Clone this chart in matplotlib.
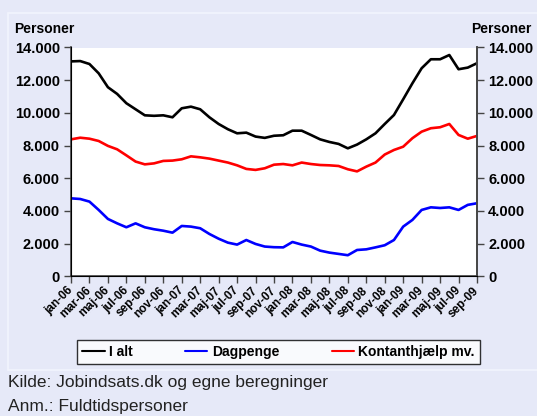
import matplotlib
matplotlib.use("Agg")
import matplotlib.pyplot as plt
from matplotlib.patches import Rectangle
from matplotlib.ticker import FuncFormatter
from matplotlib.transforms import ScaledTranslation

plt.rcParams["font.family"] = ["Liberation Sans", "DejaVu Sans"]

# months jan-06 .. sep-09
month_names = ["jan", "feb", "mar", "apr", "maj", "jun",
               "jul", "aug", "sep", "okt", "nov", "dec"]
months = [f"{month_names[m]}-{y:02d}" for y in (6, 7, 8, 9) for m in range(12)][:45]

i_alt = [13150, 13170, 12990, 12420, 11570, 11160, 10590, 10220, 9850, 9820,
         9850, 9730, 10280, 10380, 10220, 9730, 9320, 9000, 8750, 8790,
         8550, 8470, 8600, 8630, 8910, 8910, 8650, 8380, 8220, 8100,
         7830, 8060, 8380, 8750, 9320, 9870, 10830, 11810, 12730, 13280,
         13280, 13540, 12670, 12770, 13040]

dagpenge = [4770, 4730, 4570, 4060, 3510, 3240, 3000, 3240, 3000, 2880,
            2790, 2670, 3080, 3040, 2940, 2590, 2300, 2060, 1940, 2220,
            1980, 1820, 1780, 1770, 2100, 1940, 1820, 1570, 1450, 1370,
            1290, 1610, 1650, 1770, 1900, 2220, 3040, 3450, 4060, 4220,
            4180, 4220, 4060, 4370, 4470]

kontanthjaelp = [8380, 8480, 8420, 8280, 7980, 7770, 7400, 7020, 6850, 6910,
                 7060, 7080, 7160, 7340, 7280, 7200, 7080, 6960, 6790, 6570,
                 6510, 6610, 6830, 6870, 6790, 6960, 6870, 6810, 6790, 6750,
                 6550, 6420, 6710, 6960, 7450, 7730, 7930, 8450, 8850, 9060,
                 9120, 9320, 8650, 8420, 8590]

series = [("I alt", i_alt, "black"),
          ("Dagpenge", dagpenge, "#0000FF"),
          ("Kontanthjælp mv.", kontanthjaelp, "#FF0000")]

bg = "#E6E9F8"
fig = plt.figure(figsize=(5.37, 4.16), dpi=100, facecolor=bg)
W, H = 537, 416

# chart area frame (behind everything)
fig.patches.append(Rectangle((8 / W, 1 - 370 / H), 1, (370 - 13) / H,
                             transform=fig.transFigure, facecolor=bg,
                             edgecolor="#F2F4FD", linewidth=1.2, zorder=-5))

ax = fig.add_axes([71 / W, 1 - 276.3 / H, (477 - 71) / W, (276.3 - 47.5) / H])
ax.set_facecolor("white")

x = list(range(len(months)))
for name, vals, col in series:
    ax.plot(x, vals, color=col, linewidth=1.9, label=name,
            solid_joinstyle="round", solid_capstyle="round")

ax.set_xlim(0, len(months) - 1)
ax.set_ylim(0, 14000)
ax.set_yticks(range(0, 14001, 2000))
fmt = FuncFormatter(lambda v, p: f"{int(v):,}".replace(",", "."))
ax.yaxis.set_major_formatter(fmt)

ax.set_xticks(x[::2])
ax.set_xticklabels(months[::2], rotation=45, ha="right", va="center",
                   rotation_mode="anchor", fontsize=8.5, fontweight="bold")
shift = ScaledTranslation(-11 / 100, -14 / 100, fig.dpi_scale_trans)
for lab in ax.get_xticklabels():
    lab.set_transform(lab.get_transform() + shift)

ax.spines["top"].set_visible(False)
for s in ("left", "right", "bottom"):
    ax.spines[s].set_color("#444444")
    ax.spines[s].set_linewidth(1.2)

ax.tick_params(axis="both", direction="out", length=5, width=1.0, color="#444444")
ax.tick_params(axis="x", pad=4)
ax.tick_params(axis="y", labelsize=10.5, pad=3)
for lab in ax.get_yticklabels():
    lab.set_fontweight("bold")

ax2 = ax.twinx()
ax2.set_ylim(0, 14000)
ax2.set_yticks(range(0, 14001, 2000))
ax2.yaxis.set_major_formatter(fmt)
ax2.spines["top"].set_visible(False)
ax2.spines["right"].set_color("#444444")
ax2.spines["right"].set_linewidth(1.2)
ax2.tick_params(axis="y", direction="out", length=5, width=1.0,
                color="#444444", labelsize=10.5, pad=3)
for lab in ax2.get_yticklabels():
    lab.set_fontweight("bold")

fig.text(14 / W, 1 - 29 / H, "Personer", fontsize=10, fontweight="bold",
         ha="left", va="center")
fig.text(532 / W, 1 - 29 / H, "Personer", fontsize=10, fontweight="bold",
         ha="right", va="center")

leg = fig.legend(loc="center", bbox_to_anchor=(278.5 / W, 1 - 352 / H),
                 ncol=3, frameon=True, fancybox=False, handlelength=1.6,
                 handletextpad=0.3, columnspacing=3.8, borderpad=0.35,
                 borderaxespad=0, prop={"weight": "bold", "size": 10})
leg.get_frame().set_edgecolor("black")
leg.get_frame().set_linewidth(1.0)
for line in leg.get_lines():
    line.set_linewidth(1.5)

foot = ["Liberation Sans Narrow", "DejaVu Sans Condensed", "Liberation Sans"]
fig.text(8 / W, 1 - 383 / H, "Kilde: Jobindsats.dk og egne beregninger",
         fontsize=12.5, family=foot, ha="left", va="center", color="#222222")
fig.text(8 / W, 1 - 406 / H, "Anm.: Fuldtidspersoner",
         fontsize=12.5, family=foot, ha="left", va="center", color="#222222")

fig.savefig("out.png", dpi=100, facecolor=bg)
